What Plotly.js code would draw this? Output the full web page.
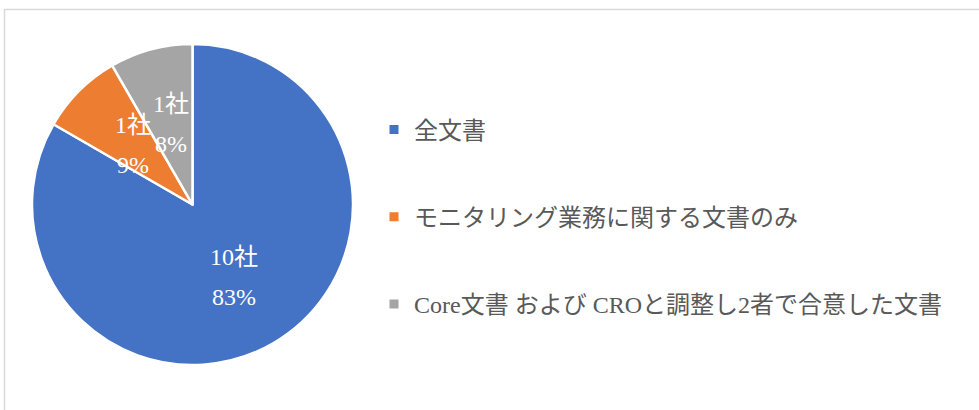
<!DOCTYPE html>
<html>
<head>
<meta charset="utf-8">
<script src="https://cdn.plot.ly/plotly-3.0.1.min.js"></script>
<style>html,body{margin:0;padding:0;background:#fff;}#chart{width:979px;height:410px;}</style>
</head>
<body>
<div id="chart"></div>
<script>
const labels = ["全文書", "モニタリング業務に関する文書のみ", "Core文書 および CROと調整し2者で合意した文書"];
const values = [10, 1, 1];
const countText = ["10社", "1社", "1社"];
const percentText = ["83%", "9%", "8%"];
const colors = ["#4472C4", "#ED7D31", "#A5A5A5"];

const W = 979, H = 410;
const FONT = "'Liberation Serif', 'Noto Sans CJK JP', serif";
// pie placement in pixels
const cx = 192.5, cy = 204.5, r = 160.5;

const traces = [{
  type: "pie",
  labels: labels,
  values: values,
  sort: false,
  direction: "clockwise",
  rotation: 0,
  marker: {colors: colors, line: {color: "#ffffff", width: 2.5}},
  textinfo: "none",
  hoverinfo: "label+value+percent",
  showlegend: false,
  domain: {x: [(cx - r) / W, (cx + r) / W], y: [1 - (cy + r) / H, 1 - (cy - r) / H]}
}];

// legend entries via empty scatter traces (for spacing control)
labels.forEach((lab, i) => {
  traces.push({
    type: "scatter", mode: "markers", x: [null], y: [null],
    name: lab, legendgroup: "g" + i,
    marker: {symbol: "square", size: 9, color: colors[i]},
    hoverinfo: "skip"
  });
});

// data labels positioned from slice angles
const total = values.reduce((a, b) => a + b, 0);
const annotations = [];
let cum = 0;
values.forEach((v, i) => {
  const mid = (cum + v / 2) / total * 2 * Math.PI;
  cum += v;
  const px = cx + 0.52 * r * Math.sin(mid);
  const py = cy - 0.52 * r * Math.cos(mid);
  [[countText[i], -20], [percentText[i], 20]].forEach(([t, dy]) => {
    annotations.push({
      xref: "paper", yref: "paper",
      x: px / W, y: 1 - (py + dy) / H,
      xanchor: "center", yanchor: "middle",
      text: t, showarrow: false,
      font: {family: FONT, size: 24, color: "#ffffff"}
    });
  });
});

const layout = {
  width: W, height: H,
  margin: {l: 0, r: 0, t: 0, b: 0},
  paper_bgcolor: "#ffffff",
  plot_bgcolor: "rgba(0,0,0,0)",
  xaxis: {visible: false}, yaxis: {visible: false},
  showlegend: true,
  legend: {
    x: 374 / W, xanchor: "left",
    y: 1 - 217 / H, yanchor: "middle",
    font: {family: FONT, size: 24, color: "#595959"},
    tracegroupgap: 53,
    traceorder: "grouped",
    bgcolor: "rgba(0,0,0,0)"
  },
  annotations: annotations,
  shapes: [{
    type: "rect", xref: "paper", yref: "paper",
    x0: 4.5 / W, x1: 1.2, y0: -0.2, y1: 1 - 9.5 / H,
    line: {color: "#D9D9D9", width: 1.5}, fillcolor: "rgba(0,0,0,0)"
  }]
};

Plotly.newPlot("chart", traces, layout, {displayModeBar: false, staticPlot: true});
</script>
</body>
</html>
